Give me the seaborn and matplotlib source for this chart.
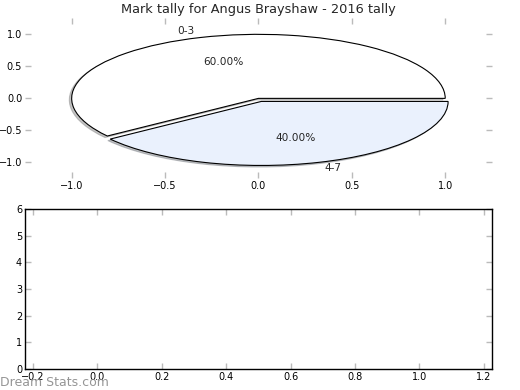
import matplotlib
matplotlib.use("Agg")
import matplotlib.pyplot as plt
import seaborn as sns

# Data
labels = ["0-3", "4-7"]
tally = [60, 40]
explode = [0, 0.05]
wedge_colors = ["#FFFFFF", "#EAF1FD"]
player = "Angus Brayshaw"
season = 2016

sns.set_theme(style="white", rc={
    "xtick.direction": "in",
    "ytick.direction": "in",
    "xtick.color": "#BBBBBB",
    "ytick.color": "#BBBBBB",
    "xtick.labelcolor": "black",
    "ytick.labelcolor": "black",
    "xtick.major.size": 4,
    "ytick.major.size": 4,
    "xtick.major.width": 1,
    "ytick.major.width": 1,
    "xtick.top": True,
    "ytick.right": True,
    "xtick.bottom": True,
    "ytick.left": True,
    "axes.edgecolor": "black",
    "axes.linewidth": 1,
    "xtick.labelsize": 7,
    "ytick.labelsize": 7,
})
plt.rcParams["font.family"] = ["DejaVu Sans"]

fig, (ax1, ax2) = plt.subplots(2, 1, figsize=(5.2, 3.9), dpi=100)
fig.subplots_adjust(left=0.048, right=0.946, top=0.953, bottom=0.054, hspace=0.19)

# pie keeps the old-style axes ticks around it
wedges, texts, autotexts = ax1.pie(
    tally, labels=labels, explode=explode, colors=wedge_colors,
    autopct="%1.2f%%", startangle=0,
    shadow={"ox": -0.009, "oy": -0.017, "shade": 0.45},
    wedgeprops={"edgecolor": "black", "linewidth": 0.8},
    textprops={"fontsize": 7.6},
)
ax1.set_aspect("auto")
ax1.set_xlim(-1.25, 1.25)
ax1.set_ylim(-1.25, 1.25)
ax1.set_xticks([-1.0, -0.5, 0.0, 0.5, 1.0])
ax1.set_yticks([-1.0, -0.5, 0.0, 0.5, 1.0])
ax1.tick_params(top=True, right=True, labeltop=False, labelright=False, pad=2)
ax1.set_title(f"Mark tally for {player} - {season} tally", fontsize=9.3, pad=4)

# empty second panel
ax2.set_xlim(-0.225, 1.225)
ax2.set_ylim(0, 6)
ax2.set_xticks([-0.2, 0.0, 0.2, 0.4, 0.6, 0.8, 1.0, 1.2])
ax2.set_yticks(range(0, 7))
ax2.tick_params(top=True, right=True, labeltop=False, labelright=False, pad=2)

fig.text(0.0, 0.003, "Dream Stats.com", fontsize=9, color="#8A8A8A", alpha=0.9,
         ha="left", va="bottom")

fig.savefig("out.png", dpi=100)
